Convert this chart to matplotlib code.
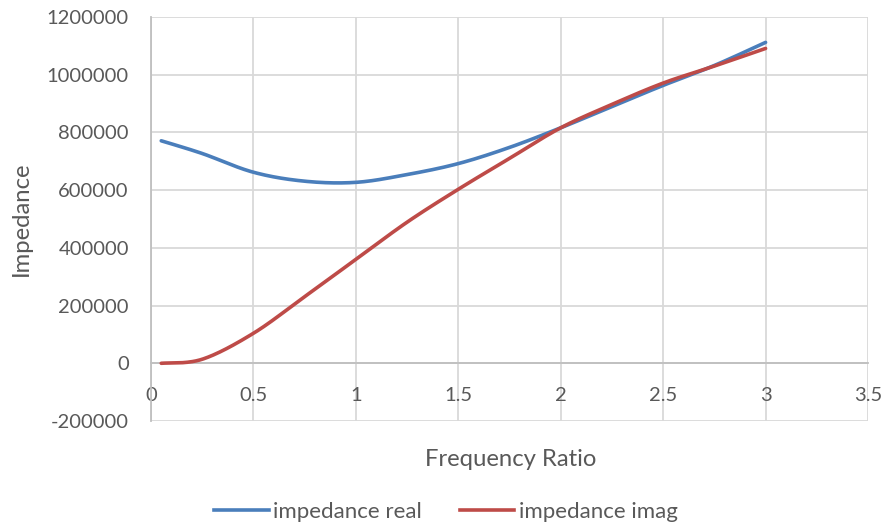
import numpy as np
import matplotlib
matplotlib.use("Agg")
import matplotlib.pyplot as plt
from matplotlib.lines import Line2D

# ---- data ----
freq_ratio = [0.05, 0.25, 0.5, 0.75, 1.0, 1.25, 1.5, 1.75, 2.0, 2.25, 2.5, 2.75, 3.0]
impedance_real = [771000, 727000, 662000, 631000, 627000, 654000, 692000,
                  748000, 816000, 890000, 963000, 1032000, 1112000]
impedance_imag = [0, 14000, 104000, 231000, 360000, 489000, 603000,
                  710000, 816000, 897000, 971000, 1030000, 1091000]
series_names = ["impedance real", "impedance imag"]
x_ticks = [0, 0.5, 1, 1.5, 2, 2.5, 3, 3.5]
x_tick_labels = ["0", "0.5", "1", "1.5", "2", "2.5", "3", "3.5"]
y_ticks = [-200000, 0, 200000, 400000, 600000, 800000, 1000000, 1200000]
y_tick_labels = ["-200000", "0", "200000", "400000", "600000", "800000", "1000000", "1200000"]


def smooth(xs, ys, n=40):
    """Excel-like smoothed line: cubic Bezier segments (Catmull-Rom control points)."""
    xs = np.asarray(xs, float)
    ys = np.asarray(ys, float)
    P = np.column_stack([xs, ys])
    out = []
    for i in range(len(P) - 1):
        p0 = P[i - 1] if i > 0 else P[i]
        p1 = P[i]
        p2 = P[i + 1]
        p3 = P[i + 2] if i + 2 < len(P) else P[i + 1]
        c1 = p1 + (p2 - p0) / 6.0
        c2 = p2 - (p3 - p1) / 6.0
        t = np.linspace(0, 1, n)[:, None]
        seg = ((1 - t) ** 3) * p1 + 3 * ((1 - t) ** 2) * t * c1 + 3 * (1 - t) * t ** 2 * c2 + t ** 3 * p2
        out.append(seg if i == 0 else seg[1:])
    out = np.vstack(out)
    return out[:, 0], out[:, 1]


plt.rcParams['font.family'] = ['Lato', 'DejaVu Sans']
TEXT = '#595959'
GRID = '#D9D9D9'
BLUE = '#4A7EBB'
RED = '#BE4B48'

fig = plt.figure(figsize=(8.85, 5.26), dpi=100)
ax = fig.add_axes([151 / 885, 1 - 421 / 526, 717 / 885, 404 / 526])

ax.set_xlim(0, 3.5)
ax.set_ylim(-200000, 1200000)
ax.set_xticks(x_ticks)
ax.set_xticklabels(x_tick_labels)
ax.set_yticks(y_ticks)
ax.set_yticklabels(y_tick_labels)

ax.grid(True, color=GRID, linewidth=1.3)
ax.set_axisbelow(True)
for s in ['top', 'right']:
    ax.spines[s].set_visible(False)
ax.spines['bottom'].set_position(('data', 0))
ax.spines['bottom'].set_color('#BFBFBF')
ax.spines['bottom'].set_linewidth(1.3)
ax.spines['left'].set_color('#BFBFBF')
ax.spines['left'].set_linewidth(1.3)
ax.tick_params(axis='both', length=0, colors=TEXT, labelsize=14.5)
ax.tick_params(axis='x', pad=17)
ax.tick_params(axis='y', pad=16)

colors = [BLUE, RED]
for ys, c in zip([impedance_real, impedance_imag], colors):
    sx, sy = smooth(freq_ratio, ys)
    ax.plot(sx, sy, color=c, linewidth=2.6, solid_capstyle='round', zorder=3)

fig.text(21 / 885, 1 - 219 / 526, "Impedance", rotation=90, ha='center', va='center',
         color=TEXT, fontsize=17.2)
fig.text(511 / 885, 1 - 460 / 526, "Frequency Ratio", ha='center', va='center',
         color=TEXT, fontsize=17.2)

handles = [Line2D([0], [0], color=c, linewidth=2.6) for c in colors]
leg = fig.legend(handles, series_names, loc='center', bbox_to_anchor=(446 / 885, 1 - 512 / 526),
                 ncol=2, frameon=False, fontsize=16, handlelength=2.45, handletextpad=0.2,
                 columnspacing=1.7, labelcolor=TEXT, borderpad=0, borderaxespad=0)

fig.savefig("out.png", dpi=100, facecolor='white')
